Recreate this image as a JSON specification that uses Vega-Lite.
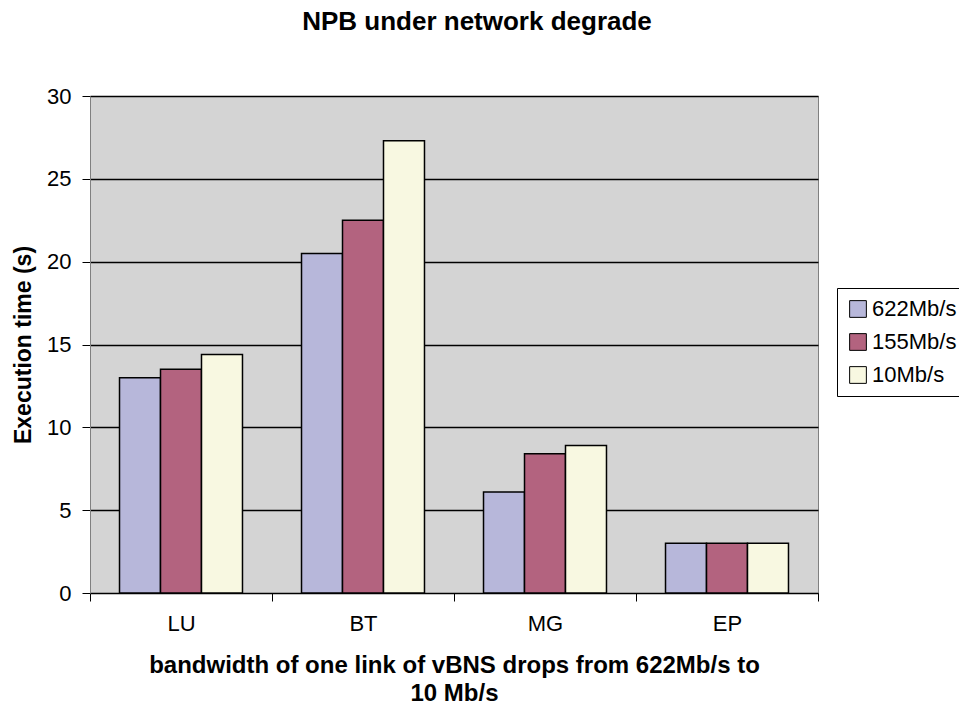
{
  "$schema": "https://vega.github.io/schema/vega-lite/v6.json",
  "width": 728,
  "height": 497,
  "autosize": {"type": "none"},
  "padding": {"left": 90, "top": 96, "right": 141, "bottom": 115},
  "background": "white",
  "title": {
    "text": "NPB under network degrade",
    "font": "Liberation Sans",
    "fontSize": 26,
    "fontWeight": "bold",
    "color": "black",
    "frame": "group",
    "anchor": "middle",
    "dx": 23,
    "offset": 50
  },
  "config": {
    "view": {"fill": "#d4d4d4", "stroke": "#808080", "strokeWidth": 1},
    "font": "Liberation Sans"
  },
  "data": {
    "values": [
      {"bench": "LU", "bw": "622Mb/s", "time": 13.0},
      {"bench": "LU", "bw": "155Mb/s", "time": 13.5},
      {"bench": "LU", "bw": "10Mb/s", "time": 14.4},
      {"bench": "BT", "bw": "622Mb/s", "time": 20.5},
      {"bench": "BT", "bw": "155Mb/s", "time": 22.5},
      {"bench": "BT", "bw": "10Mb/s", "time": 27.3},
      {"bench": "MG", "bw": "622Mb/s", "time": 6.1},
      {"bench": "MG", "bw": "155Mb/s", "time": 8.4},
      {"bench": "MG", "bw": "10Mb/s", "time": 8.9},
      {"bench": "EP", "bw": "622Mb/s", "time": 3.0},
      {"bench": "EP", "bw": "155Mb/s", "time": 3.0},
      {"bench": "EP", "bw": "10Mb/s", "time": 3.0}
    ]
  },
  "mark": {"type": "bar", "stroke": "black", "strokeWidth": 1.5},
  "encoding": {
    "x": {
      "field": "bench",
      "type": "nominal",
      "sort": ["LU", "BT", "MG", "EP"],
      "scale": {"paddingInner": 0, "paddingOuter": 0},
      "axis": {
        "title": ["bandwidth of one link of vBNS drops from 622Mb/s to", "10 Mb/s"],
        "titleFont": "Liberation Sans",
        "titleFontSize": 24,
        "titleFontWeight": "bold",
        "titleColor": "black",
        "titlePadding": 19,
        "titleLineHeight": 28,
        "labelAngle": 0,
        "labelFont": "Liberation Sans",
        "labelFontSize": 22,
        "labelColor": "black",
        "labelPadding": 12,
        "tickBand": "extent",
        "tickColor": "black",
        "tickSize": 8,
        "domainColor": "black",
        "grid": false
      }
    },
    "xOffset": {"field": "bw", "type": "nominal", "sort": ["622Mb/s", "155Mb/s", "10Mb/s"], "scale": {"paddingInner": 0, "paddingOuter": 0.72}},
    "y": {
      "field": "time",
      "type": "quantitative",
      "scale": {"domain": [0, 30], "nice": false},
      "axis": {
        "title": "Execution time (s)",
        "titleFont": "Liberation Sans",
        "titleFontSize": 23,
        "titleFontWeight": "bold",
        "titleColor": "black",
        "titlePadding": 11,
        "values": [0, 5, 10, 15, 20, 25, 30],
        "labelFont": "Liberation Sans",
        "labelFontSize": 22,
        "labelColor": "black",
        "labelPadding": 11,
        "tickColor": "black",
        "tickSize": 8,
        "domainColor": "#808080",
        "grid": true,
        "gridColor": "black",
        "gridWidth": 1.5,
        "gridOpacity": 1
      }
    },
    "color": {
      "field": "bw",
      "type": "nominal",
      "sort": ["622Mb/s", "155Mb/s", "10Mb/s"],
      "scale": {"domain": ["622Mb/s", "155Mb/s", "10Mb/s"], "range": ["#b7b7da", "#b3637f", "#f8f8e1"]},
      "legend": {
        "title": null,
        "orient": "none",
        "legendX": 747,
        "legendY": 192,
        "strokeColor": "black",
        "padding": 10,
        "symbolType": "square",
        "symbolSize": 280,
        "symbolStrokeColor": "black",
        "symbolStrokeWidth": 1,
        "labelFont": "Liberation Sans",
        "labelFontSize": 22,
        "labelColor": "black",
        "labelOffset": 3,
        "rowPadding": 11
      }
    }
  }
}
